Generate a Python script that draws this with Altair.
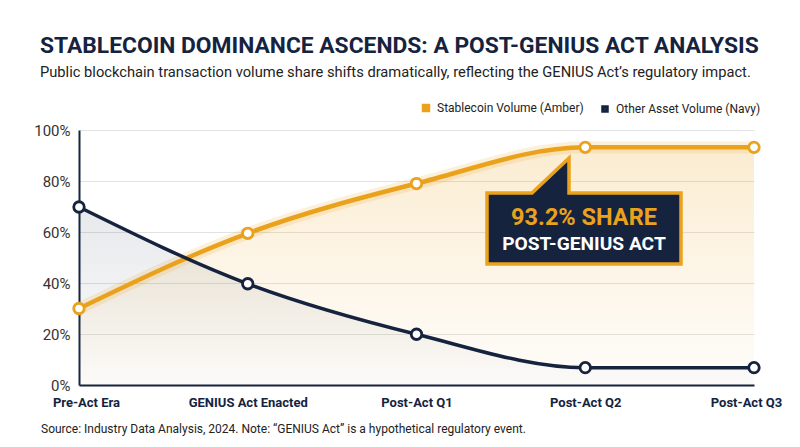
import altair as alt
import pandas as pd

categories = ["Pre-Act Era", "GENIUS Act Enacted", "Post-Act Q1", "Post-Act Q2", "Post-Act Q3"]
stable = [30, 59.5, 79, 93.2, 93.2]
other = [69.8, 39.7, 19.9, 6.8, 6.8]
series_names = ["Stablecoin Volume (Amber)", "Other Asset Volume (Navy)"]
y_ticks = [0, 20, 40, 60, 80, 100]

title_text = "STABLECOIN DOMINANCE ASCENDS: A POST-GENIUS ACT ANALYSIS"
subtitle_text = "Public blockchain transaction volume share shifts dramatically, reflecting the GENIUS Act\u2019s regulatory impact."
source_text = "Source: Industry Data Analysis, 2024. Note: \u201cGENIUS Act\u201d is a hypothetical regulatory event."
callout_top = "93.2% SHARE"
callout_bottom = "POST-GENIUS ACT"

AMBER = "#EAA21C"
NAVY = "#15233F"
FONT = "Roboto"

rows = []
for i, c in enumerate(categories):
    rows.append({"cat": c, "series": series_names[0], "value": stable[i]})
    rows.append({"cat": c, "series": series_names[1], "value": other[i]})
df = pd.DataFrame(rows)

x_enc = alt.X("cat:N", sort=categories, scale=alt.Scale(type="point", padding=0),
              axis=alt.Axis(title=None, labelAngle=0, labelFont=FONT, labelFontSize=13,
                            labelFontWeight="bold", labelColor=NAVY, labelPadding=11,
                            labelBaseline="top",
                            labelOffset={"condition": [{"test": "datum.index === 0", "value": 7},
                                                       {"test": "datum.index === 1", "value": -8}],
                                         "value": 0},
                            ticks=False, domainColor=NAVY, domainWidth=2,
                            gridColor="#e2e2e2", gridWidth=1))
y_enc = alt.Y("value:Q", scale=alt.Scale(domain=[0, 100], nice=False),
              axis=alt.Axis(title=None, values=y_ticks, labelExpr="datum.value + '%'",
                            labelFont=FONT, labelFontSize=15, labelColor="#333",
                            labelPadding=9, ticks=False, domainColor=NAVY, domainWidth=2,
                            gridColor="#e2e2e2", gridWidth=1))

base = alt.Chart(df).encode(x=x_enc, y=y_enc)

amber_grad = alt.Gradient(gradient="linear", x1=0, y1=0, x2=0, y2=1,
                          stops=[alt.GradientStop(color="rgba(234,162,28,0.20)", offset=0),
                                 alt.GradientStop(color="rgba(234,162,28,0.02)", offset=1)])
navy_grad = alt.Gradient(gradient="linear", x1=0, y1=0, x2=0, y2=1,
                         stops=[alt.GradientStop(color="rgba(21,35,63,0.10)", offset=0),
                                alt.GradientStop(color="rgba(21,35,63,0.01)", offset=1)])

area_stable = base.transform_filter(alt.datum.series == series_names[0]).mark_area(
    interpolate="monotone", color=amber_grad).encode(y=alt.Y("value:Q", stack=None))
area_other = base.transform_filter(alt.datum.series == series_names[1]).mark_area(
    interpolate="monotone", color=navy_grad).encode(y=alt.Y("value:Q", stack=None))

glow = base.transform_filter(alt.datum.series == series_names[0]).mark_line(
    interpolate="monotone", color=AMBER, strokeWidth=12, opacity=0.16)

color_scale = alt.Scale(domain=series_names, range=[AMBER, NAVY])
lines = base.mark_line(interpolate="monotone").encode(
    color=alt.Color("series:N", scale=color_scale,
                    legend=alt.Legend(title=None, orient="none", direction="horizontal",
                                      legendX=341, legendY=-28, symbolType="square",
                                      symbolSize=16, symbolStrokeWidth=4, labelFont=FONT,
                                      labelFontSize=12, labelColor="#222", labelLimit=400,
                                      columnPadding=12, labelOffset=5)),
    strokeWidth=alt.StrokeWidth("series:N", scale=alt.Scale(domain=series_names, range=[4.5, 3.5]),
                                legend=None))
points = base.mark_point(filled=True, fill="white", size=110, strokeWidth=2.8, opacity=1).encode(
    stroke=alt.Stroke("series:N", scale=color_scale, legend=None))

# callout shape (box + pointer), path in units of 100 px
callout_path = ("M -0.96 -0.35 L -0.51 -0.35 L -0.14 -0.70 L -0.14 -0.35 L 0.98 -0.35 "
                "L 0.98 0.36 L -0.96 0.36 Z")
one = pd.DataFrame({"a": [0]})
callout = alt.Chart(one).mark_point(shape=callout_path, size=40000, filled=True,
                                    fill=NAVY, stroke=AMBER, strokeWidth=3.5, opacity=1,
                                    strokeJoin="miter").encode(
    x=alt.value(504), y=alt.value(98))
c_top = alt.Chart(pd.DataFrame({"t": [callout_top]})).mark_text(
    font=FONT, fontSize=23.5, fontWeight="bold", color=AMBER, align="center",
    baseline="alphabetic").encode(text="t:N", x=alt.value(505), y=alt.value(95))
c_bot = alt.Chart(pd.DataFrame({"t": [callout_bottom]})).mark_text(
    font=FONT, fontSize=19.2, fontWeight="bold", color="white", align="center",
    baseline="alphabetic").encode(text="t:N", x=alt.value(505), y=alt.value(120))

title = alt.Chart(pd.DataFrame({"t": [title_text]})).mark_text(
    font=FONT, fontSize=22.8, fontWeight="bold", color=NAVY, align="left",
    baseline="alphabetic").encode(text="t:N", x=alt.value(-39), y=alt.value(-77))
subtitle = alt.Chart(pd.DataFrame({"t": [subtitle_text]})).mark_text(
    font=FONT, fontSize=14.7, color="#222", align="left",
    baseline="alphabetic").encode(text="t:N", x=alt.value(-39), y=alt.value(-53))
source = alt.Chart(pd.DataFrame({"t": [source_text]})).mark_text(
    font=FONT, fontSize=12, color="#222", align="left",
    baseline="alphabetic").encode(text="t:N", x=alt.value(-38), y=alt.value(303))

chart = alt.layer(area_stable, area_other, glow, lines, points, callout, c_top, c_bot,
                  title, subtitle, source).properties(
    width=675, height=255,
    autosize=alt.AutoSizeParams(type="none"),
    padding={"left": 71, "top": 122, "right": 38, "bottom": 54},
    background="white",
).configure_view(stroke=None)

chart.save("out.html", embed_options={"renderer": "svg", "actions": False})
